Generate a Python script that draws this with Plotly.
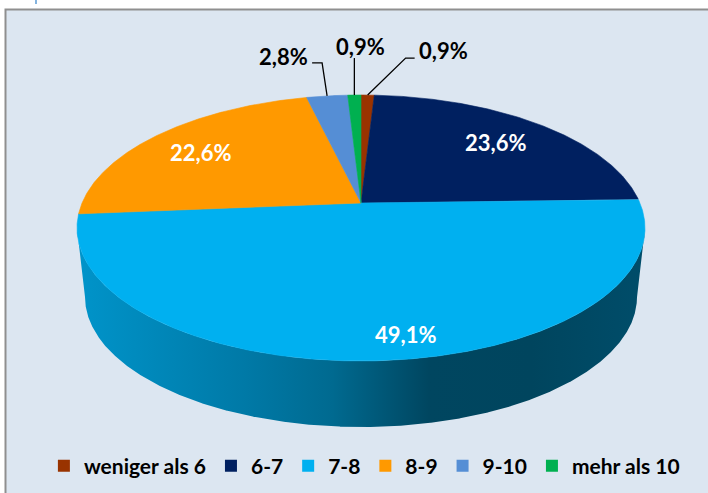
import numpy as np
import plotly.graph_objects as go

# ---------------- data ----------------
categories = ["weniger als 6", "6-7", "7-8", "8-9", "9-10", "mehr als 10"]
values = [0.9, 23.6, 49.1, 22.6, 2.8, 0.9]
value_labels = ["0,9%", "23,6%", "49,1%", "22,6%", "2,8%", "0,9%"]
colors = ["#993300", "#002060", "#00b0f0", "#ff9900", "#558ed5", "#00b050"]

# ---------------- style / geometry (pixel space) ----------------
W, H = 708, 493
CX, CY, RX, RY = 361, 228, 284, 133       # top ellipse
TILT = 0.188                               # perspective shift of the pie centre
BCY, BRX, BRY = 297, 276, 130              # bottom ellipse (side of the cylinder)
FONT = "Lato"
inside_r = {1: 0.74, 2: 0.86, 3: 0.72}     # label radius for big slices
inside_shift = {1: 0, 2: 28, 3: -10}
# leader line offsets for small slices: (elbow dx, elbow dy, horizontal dx, text anchor)
leaders = {0: (38, -37, 9, "left"), 4: (-5, -33, -10, "right"), 5: (0, -37, 0, "center")}


def unit(phi, r=1.0):
    p = np.radians(phi)
    a, b = r * np.sin(p), r * np.cos(p)
    den = 1 + TILT * b
    return a * np.sqrt(1 - TILT ** 2) / den, (b + TILT) / den


def top_xy(phi, r=1.0):
    u, w = unit(phi, r)
    return CX + RX * u, CY - RY * w


def bot_xy(u, w):
    return CX + BRX * u, BCY - BRY * w


def shade(hexcol, f):
    hexcol = hexcol.lstrip("#")
    rgb = [int(hexcol[i:i + 2], 16) for i in (0, 2, 4)]
    return "rgb(%d,%d,%d)" % tuple(int(round(c * f)) for c in rgb)


total = sum(values)
bounds = np.concatenate([[0], np.cumsum(values) / total * 360.0])

fig = go.Figure()

# ---- side walls (visible front part) ----
for i, (v, c) in enumerate(zip(values, colors)):
    phis = np.linspace(bounds[i], bounds[i + 1], max(4, int((bounds[i + 1] - bounds[i]) * 10)))
    u, w = unit(phis)
    vis = w <= 0
    if vis.sum() < 2:
        continue
    uu, ww = u[vis], w[vis]
    tx, ty = CX + RX * uu, CY - RY * ww
    bx, by = bot_xy(uu, ww)
    xs = np.concatenate([tx, bx[::-1], tx[:1]])
    ys = np.concatenate([ty, by[::-1], ty[:1]])
    fig.add_trace(go.Scatter(
        x=xs, y=ys, mode="lines", fill="toself", line=dict(width=0),
        fillgradient=dict(type="horizontal", colorscale=[
            [0.0, shade(c, 0.84)], [0.3, shade(c, 0.69)], [0.45, shade(c, 0.60)],
            [0.62, shade(c, 0.40)], [0.8, shade(c, 0.39)], [1.0, shade(c, 0.44)]]),
        hoverinfo="skip", showlegend=False))

# ---- top face slices ----
vx, vy = top_xy(0, 0.0)
for i, (v, c) in enumerate(zip(values, colors)):
    phis = np.linspace(bounds[i], bounds[i + 1], max(4, int((bounds[i + 1] - bounds[i]) * 4)))
    ax_, ay_ = top_xy(phis)
    xs = np.concatenate([[vx], ax_, [vx]])
    ys = np.concatenate([[vy], ay_, [vy]])
    fig.add_trace(go.Scatter(
        x=xs, y=ys, mode="lines", fill="toself", fillcolor=c,
        line=dict(width=0.6, color=c), name=categories[i],
        hoverinfo="name", showlegend=False))

# ---- labels ----
annotations = []
for i, v in enumerate(values):
    mid = (bounds[i] + bounds[i + 1]) / 2
    if i in inside_r:
        lx, ly = top_xy(mid, inside_r[i])
        annotations.append(dict(x=lx, y=ly, text=value_labels[i], showarrow=False,
                                xshift=inside_shift[i],
                                font=dict(family=FONT, size=22, color="white", weight="bold")))
    else:
        sx, sy = top_xy(mid, 1.0)
        edx, edy, hdx, anch = leaders[i]
        ex, ey = sx + edx, sy + edy
        hx = ex + hdx
        fig.add_trace(go.Scatter(x=[sx, ex, hx], y=[sy, ey, ey], mode="lines",
                                 line=dict(color="black", width=1.3),
                                 hoverinfo="skip", showlegend=False))
        if anch == "left":
            tx, ty = hx + 2, ey - 8
        elif anch == "right":
            tx, ty = hx - 2, ey - 6
        else:
            tx, ty = hx + 6, ey - 12
        annotations.append(dict(x=tx, y=ty, text=value_labels[i], showarrow=False,
                                xanchor=anch, yanchor="middle",
                                font=dict(family=FONT, size=22, color="black", weight="bold")))

# ---- legend entries ----
for name, c in zip(categories, colors):
    fig.add_trace(go.Scatter(x=[None], y=[None], mode="markers", name=name,
                             marker=dict(symbol="square", size=12, color=c),
                             showlegend=True))

fig.update_layout(
    width=W, height=H, autosize=False,
    margin=dict(l=0, r=0, t=0, b=0),
    paper_bgcolor="white", plot_bgcolor="rgba(0,0,0,0)",
    xaxis=dict(range=[0, W], visible=False, fixedrange=True),
    yaxis=dict(range=[H, 0], visible=False, fixedrange=True),
    annotations=annotations,
    showlegend=True,
    legend=dict(orientation="h", x=0.062, y=1 - 466 / H, xanchor="left", yanchor="middle",
                font=dict(family=FONT, size=21, color="black", weight="bold"),
                bgcolor="rgba(0,0,0,0)", itemwidth=30, tracegroupgap=0),
    shapes=[
        dict(type="rect", xref="x", yref="y", x0=5.5, y0=9.5, x1=W + 20, y1=H + 20,
             fillcolor="#dce6f1", line=dict(color="#8f8f8f", width=2), layer="below"),
        dict(type="line", xref="x", yref="y", x0=36, y0=0, x1=36, y1=4,
             line=dict(color="#5b9bd5", width=1.5)),
    ],
)

fig.write_html(
    "out.html",
    config={"displayModeBar": False},
    post_script="document.body.style.margin='0';document.body.style.overflow='hidden';",
)
